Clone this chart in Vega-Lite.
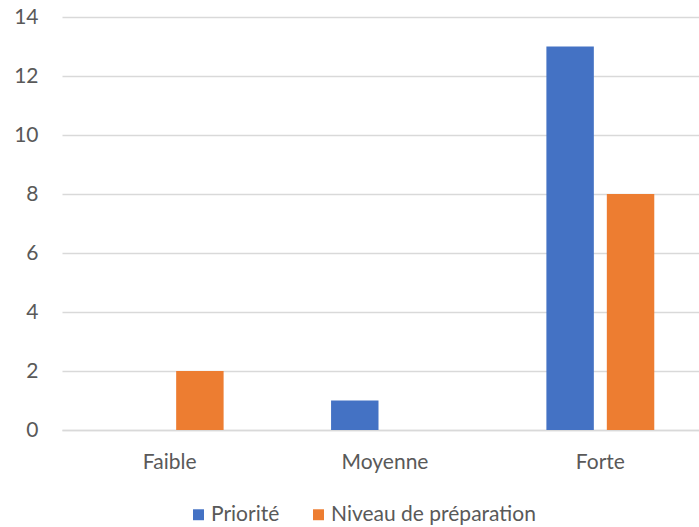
{
  "$schema": "https://vega.github.io/schema/vega-lite/v6.json",
  "width": 646,
  "height": 413,
  "autosize": {"type": "none"},
  "padding": {"left": 62, "top": 17, "right": 0, "bottom": 97},
  "background": "white",
  "config": {
    "font": "Lato",
    "view": {"stroke": null}
  },
  "data": {
    "values": [
      {"cat": "Faible", "serie": "Priorité", "val": 0},
      {"cat": "Faible", "serie": "Niveau de préparation", "val": 2},
      {"cat": "Moyenne", "serie": "Priorité", "val": 1},
      {"cat": "Moyenne", "serie": "Niveau de préparation", "val": 0},
      {"cat": "Forte", "serie": "Priorité", "val": 13},
      {"cat": "Forte", "serie": "Niveau de préparation", "val": 8}
    ]
  },
  "mark": {"type": "bar"},
  "encoding": {
    "x": {
      "field": "cat",
      "type": "nominal",
      "sort": ["Faible", "Moyenne", "Forte"],
      "scale": {"paddingInner": 0.499, "paddingOuter": 0.2495},
      "axis": {
        "title": null,
        "labelAngle": 0,
        "labelFontSize": 21,
        "labelColor": "#595959",
        "labelPadding": 21,
        "ticks": false,
        "domainColor": "#d9d9d9",
        "domainWidth": 1.5
      }
    },
    "xOffset": {
      "field": "serie",
      "type": "nominal",
      "sort": ["Priorité", "Niveau de préparation"],
      "scale": {"paddingInner": 0.215, "paddingOuter": 0}
    },
    "y": {
      "field": "val",
      "type": "quantitative",
      "scale": {"domain": [0, 14], "nice": false},
      "axis": {
        "title": null,
        "values": [0, 2, 4, 6, 8, 10, 12, 14],
        "labelFontSize": 21,
        "labelColor": "#595959",
        "labelPadding": 24,
        "ticks": false,
        "domain": false,
        "gridColor": "#d9d9d9",
        "gridWidth": 1.5
      }
    },
    "color": {
      "field": "serie",
      "type": "nominal",
      "sort": ["Priorité", "Niveau de préparation"],
      "scale": {"domain": ["Priorité", "Niveau de préparation"], "range": ["#4472C4", "#ED7D31"]},
      "legend": {
        "title": null,
        "orient": "none",
        "direction": "horizontal",
        "legendX": 126,
        "legendY": 487,
        "symbolType": "square",
        "symbolSize": 120,
        "symbolStrokeWidth": 0,
        "labelFontSize": 21,
        "labelLimit": 0,
        "labelColor": "#595959",
        "labelOffset": 2,
        "columnPadding": 28
      }
    }
  }
}
